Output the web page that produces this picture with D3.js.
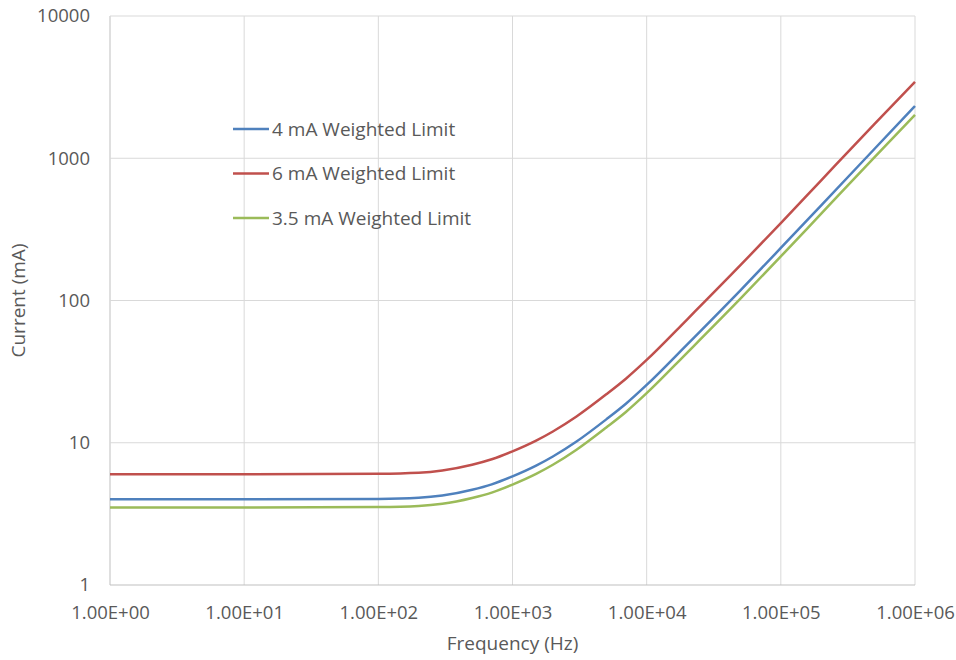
<!DOCTYPE html>
<html>
<head>
<meta charset="utf-8">
<script src="https://cdn.jsdelivr.net/npm/d3@7"></script>
<style>
	body { margin: 0; background: #fff; }
	text { font-family: "Open Sans", sans-serif; fill: #595959; }
</style>
</head>
<body>
<div id="chart"></div>
<script>
	var freqs = [1, 10, 100, 200, 300, 500, 700, 1000, 1500, 2000, 3000, 5000, 7000, 1e4, 2e4, 5e4, 1e5, 2e5, 5e5, 1e6];
	var limit4 = [4.0, 4.0, 4.03, 4.1, 4.25, 4.67, 5.1, 5.8, 6.9, 8.0, 10.2, 14.6, 18.8, 25.5, 49, 118, 234, 467, 1166, 2330];
	var limit6 = [6.0, 6.0, 6.05, 6.15, 6.38, 7.0, 7.65, 8.7, 10.35, 12.0, 15.3, 21.9, 28.2, 38.2, 73.5, 177, 350, 700, 1745, 3440];
	var limit35 = [3.5, 3.5, 3.53, 3.59, 3.72, 4.09, 4.46, 5.08, 6.04, 7.0, 8.93, 12.8, 16.45, 22.3, 42.9, 103, 204, 408, 1020, 2015];

	var seriesNames = ["4 mA Weighted Limit", "6 mA Weighted Limit", "3.5 mA Weighted Limit"];
	var seriesColors = ["#4F81BD", "#C0504D", "#9BBB59"];
	var seriesValues = [limit4, limit6, limit35];

	var xTicks = [1, 10, 100, 1000, 1e4, 1e5, 1e6];
	var xTickLabels = ["1.00E+00", "1.00E+01", "1.00E+02", "1.00E+03", "1.00E+04", "1.00E+05", "1.00E+06"];
	var yTicks = [1, 10, 100, 1000, 10000];

	var margin = {top: 16, right: 41, bottom: 75, left: 110},
		width = 956 - margin.left - margin.right,
		height = 660 - margin.top - margin.bottom;

	var svg = d3.select("#chart").append("svg")
		.attr("width", 956)
		.attr("height", 660);
	var g = svg.append("g")
		.attr("transform", "translate(" + margin.left + "," + margin.top + ")");

	var x = d3.scaleLog().domain([1, 1e6]).range([0, width]);
	var y = d3.scaleLog().domain([1, 10000]).range([height, 0]);

	//  gridlines
	g.selectAll(".vgrid")
		.data(xTicks)
		.enter().append("line")
		.attr("x1", function(d) { return x(d); })
		.attr("x2", function(d) { return x(d); })
		.attr("y1", 0)
		.attr("y2", height)
		.attr("stroke", function(d) { return d === 1 ? "#bfbfbf" : "#d9d9d9"; })
		.attr("stroke-width", 1);
	g.selectAll(".hgrid")
		.data(yTicks)
		.enter().append("line")
		.attr("x1", 0)
		.attr("x2", width)
		.attr("y1", function(d) { return y(d); })
		.attr("y2", function(d) { return y(d); })
		.attr("stroke", function(d) { return d === 1 ? "#bfbfbf" : "#d9d9d9"; })
		.attr("stroke-width", 1);

	//  axes labels
	var xAxis = d3.axisBottom(x)
		.tickValues(xTicks)
		.tickSize(0)
		.tickPadding(21)
		.tickFormat(function(d, i) { return xTickLabels[i]; });
	g.append("g")
		.attr("transform", "translate(0," + height + ")")
		.call(xAxis)
		.call(function(s) { s.select(".domain").remove(); })
		.selectAll("text")
		.style("font-size", "18.5px")
		.style("font-family", "Open Sans, sans-serif")
		.attr("fill", "#595959");

	var yAxis = d3.axisLeft(y)
		.tickValues(yTicks)
		.tickSize(0)
		.tickPadding(20)
		.tickFormat(d3.format("d"));
	g.append("g")
		.call(yAxis)
		.call(function(s) { s.select(".domain").remove(); })
		.selectAll("text")
		.style("font-size", "18.5px")
		.style("font-family", "Open Sans, sans-serif")
		.attr("fill", "#595959");

	svg.append("text")
		.attr("x", margin.left + width / 2)
		.attr("y", 650)
		.attr("text-anchor", "middle")
		.style("font-size", "19px")
		.text("Frequency (Hz)");
	svg.append("text")
		.attr("transform", "translate(25," + (margin.top + height / 2) + ") rotate(-90)")
		.attr("text-anchor", "middle")
		.style("font-size", "19px")
		.text("Current (mA)");

	//  series lines
	var line = d3.line()
		.x(function(d) { return x(d[0]); })
		.y(function(d) { return y(d[1]); })
		.curve(d3.curveMonotoneX);
	seriesValues.forEach(function(vals, i) {
		g.append("path")
			.datum(freqs.map(function(f, j) { return [f, vals[j]]; }))
			.attr("fill", "none")
			.attr("stroke", seriesColors[i])
			.attr("stroke-width", 2.5)
			.attr("d", line);
	});

	//  legend
	var legend = svg.selectAll(".legend")
		.data(seriesNames)
		.enter().append("g")
		.attr("class", "legend")
		.attr("transform", function(d, i) {
			return "translate(233," + (129 + i * 44.5) + ")";
		});
	legend.append("line")
		.attr("x1", 0)
		.attr("x2", 36)
		.attr("stroke", function(d, i) { return seriesColors[i]; })
		.attr("stroke-width", 2.5);
	legend.append("text")
		.attr("x", 39)
		.attr("dy", ".35em")
		.style("font-size", "19px")
		.text(function(d) { return d; });
</script>
</body>
</html>
